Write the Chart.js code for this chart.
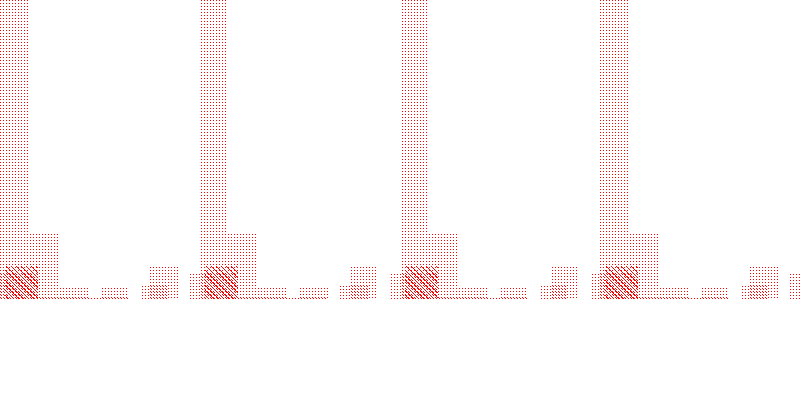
<!DOCTYPE html>
<html>
<head>
<meta charset="utf-8">
<script src="https://cdn.jsdelivr.net/npm/chart.js@4.4.1/dist/chart.umd.min.js"></script>
<style>
html,body{margin:0;padding:0;background:#fff;}
#c{display:block;}
</style>
</head>
<body>
<canvas id="c" width="800" height="400"></canvas>
<script>
// Group origins along the x axis (one repeated group of bins every 200 units)
const groups = [0, 200, 400, 600, 800];

// Bin start / end (relative to group) and heights per series
const binStartA = 0,   binEndA = 28;
const binStartB = 0,   binEndB = 58;
const binStartC = -10, binEndC = 38;
const binStartD = 5,   binEndD = 38;
const binStartE = 58,  binEndE = 88;
const binStartF = 38,  binEndF = 128;
const binStartG = 100, binEndG = 128;
const binStartH = 140, binEndH = 168;
const binStartI = 150, binEndI = 178;

const valuesA = [300, 300, 300, 300, 300];
const valuesB = [66, 66, 66, 66, 66];
const valuesC = [26, 26, 26, 26, 26];
const valuesD = [33, 33, 33, 33, 33];
const valuesE = [11, 11, 11, 11, 11];
const valuesF = [2, 2, 2, 2, 2];
const valuesG = [11, 11, 11, 11, 11];
const valuesH = [15, 15, 15, 15, 15];
const valuesI = [32, 32, 32, 32, 32];

function dotPattern(ctx, size, ox, oy, diag) {
  const c = document.createElement('canvas');
  c.width = size; c.height = size;
  const g = c.getContext('2d');
  g.fillStyle = '#ff0000';
  if (diag) {
    for (let i = 0; i < size; i += 1) g.fillRect(i, i, 1, 1);
  } else {
    g.fillRect(ox, oy, 1, 1);
  }
  return ctx.createPattern(c, 'repeat');
}

function rects(start, end, values) {
  const pts = [];
  groups.forEach((g, i) => {
    const x0 = g + start, x1 = g + end, h = values[i];
    pts.push({x: x0, y: 0}, {x: x0, y: h}, {x: x1, y: h}, {x: x1, y: 0});
    pts.push({x: x1, y: null});
  });
  return pts;
}

const ctx = document.getElementById('c').getContext('2d');

const defs = [
  [binStartA, binEndA, valuesA, dotPattern(ctx, 3, 0, 0)],
  [binStartB, binEndB, valuesB, dotPattern(ctx, 3, 0, 0)],
  [binStartC, binEndC, valuesC, dotPattern(ctx, 3, 1, 1)],
  [binStartD, binEndD, valuesD, dotPattern(ctx, 5, 0, 0, true)],
  [binStartE, binEndE, valuesE, dotPattern(ctx, 3, 0, 0)],
  [binStartF, binEndF, valuesF, dotPattern(ctx, 3, 1, 1)],
  [binStartG, binEndG, valuesG, dotPattern(ctx, 3, 0, 0)],
  [binStartH, binEndH, valuesH, dotPattern(ctx, 3, 1, 1)],
  [binStartI, binEndI, valuesI, dotPattern(ctx, 3, 0, 0)]
];

new Chart(ctx, {
  type: 'line',
  data: {
    datasets: defs.map(d => ({
      data: rects(d[0], d[1], d[2]),
      fill: 'origin',
      backgroundColor: d[3],
      borderWidth: 0,
      borderColor: 'rgba(0,0,0,0)',
      pointRadius: 0,
      tension: 0,
      spanGaps: false
    }))
  },
  options: {
    responsive: false,
    animation: false,
    layout: {padding: {left: 0, right: 0, top: 0, bottom: 101}},
    plugins: {legend: {display: false}, tooltip: {enabled: false}},
    scales: {
      x: {type: 'linear', min: 0, max: 800, display: false},
      y: {type: 'linear', min: 0, max: 299, display: false}
    }
  }
});
</script>
</body>
</html>
